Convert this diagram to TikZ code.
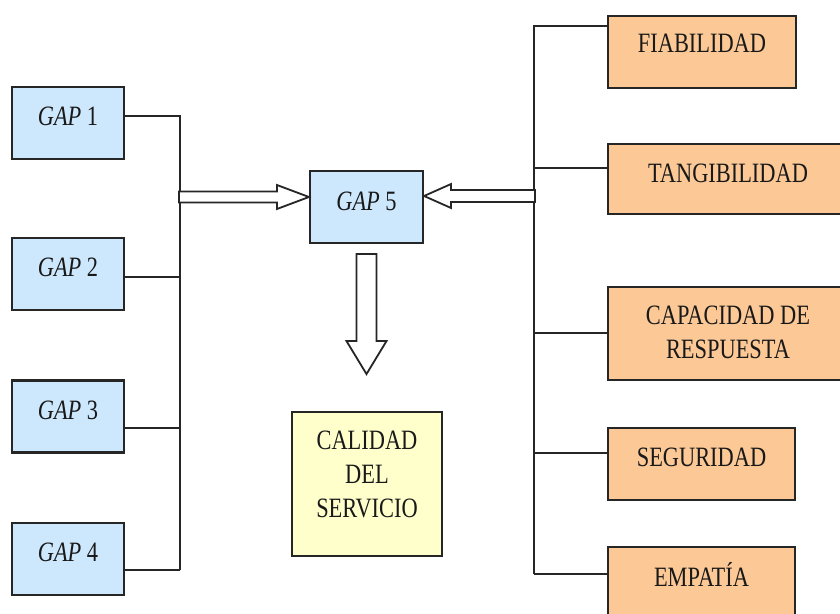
\documentclass[tikz,border=0pt]{standalone}
\usepackage{fontspec}
\newfontfamily\dfont[FakeStretch=0.8]{Liberation Serif}
\definecolor{gapblue}{HTML}{CDE8FD}
\definecolor{dimorange}{HTML}{FBC896}
\definecolor{calyellow}{HTML}{FFFFCC}
\definecolor{edgegray}{HTML}{262626}
\newcommand{\boxtxt}[2]{\raisebox{#1pt}[0pt][0pt]{#2}}
\newcommand{\twolines}[1]{\begin{tabular}{@{}c@{}}#1\end{tabular}}
\tikzset{
  basebox/.style={draw=edgegray, line width=2.1pt, inner sep=0pt, text=black!90, font=\dfont\fontsize{28}{34}\selectfont},
  gapbox/.style={basebox, fill=gapblue, minimum width=112pt, minimum height=72pt},
  dimbox/.style={basebox, fill=dimorange},
  calbox/.style={basebox, fill=calyellow, minimum width=150pt, minimum height=144pt},
  conn/.style={draw=edgegray, line width=2pt},
  hollowarrow/.style={draw=edgegray, fill=white, line width=1.8pt, line join=miter}
}
\begin{document}
\begin{tikzpicture}[x=1pt, y=-1pt]
\useasboundingbox (0,0) rectangle (840,613);
\clip (0,0) rectangle (840,613);
\fill[white] (0,0) rectangle (840,613);

% left GAP boxes
\node[gapbox] (g1) at (68,123) {\boxtxt{-2.5}{\textit{GAP} 1}};
\node[gapbox] (g2) at (68,274) {\boxtxt{-2.5}{\textit{GAP} 2}};
\node[gapbox] (g3) at (68,416.5) {\boxtxt{-2.5}{\textit{GAP} 3}};
\node[gapbox] (g4) at (68,559) {\boxtxt{-2.5}{\textit{GAP} 4}};

% central
\node[gapbox, minimum width=113pt] (g5) at (366.5,207) {\boxtxt{-3.5}{\textit{GAP} 5}};
\node[calbox] (cal) at (367,484) {\boxtxt{1.5}{\twolines{CALIDAD\\DEL\\SERVICIO}}};

% right dimension boxes
\node[dimbox, minimum width=188pt, minimum height=72pt] (fia) at (702,52) {\boxtxt{-0.5}{FIABILIDAD}};
\node[dimbox, minimum width=240pt, minimum height=70pt] (tan) at (728,179) {\boxtxt{-3.5}{TANGIBILIDAD}};
\node[dimbox, minimum width=240pt, minimum height=93pt] (cap) at (728,333.5) {\boxtxt{-7.5}{\twolines{CAPACIDAD DE\\RESPUESTA}}};
\node[dimbox, minimum width=187pt, minimum height=72pt] (seg) at (701.5,464) {\boxtxt{-2.5}{SEGURIDAD}};
\node[dimbox, minimum width=187pt, minimum height=72pt] (emp) at (701.5,583) {\boxtxt{-3.5}{EMPATÍA}};

% left bus
\coordinate (lbot) at (180,570);
\draw[conn] ([yshift=7pt]g1.east) -| (lbot);
\draw[conn] ([yshift=-3pt]g2.east) -- ([yshift=-3pt]g2.east -| lbot);
\draw[conn] ([yshift=-11.5pt]g3.east) -- ([yshift=-11.5pt]g3.east -| lbot);
\draw[conn] ([yshift=-11pt]g4.east) -- (lbot);

% right bus
\coordinate (rbot) at (534,574);
\draw[conn] ([yshift=26pt]fia.west) -| (rbot);
\draw[conn] ([yshift=11pt]tan.west) -- ([yshift=11pt]tan.west -| rbot);
\draw[conn] ([yshift=0.5pt]cap.west) -- ([yshift=0.5pt]cap.west -| rbot);
\draw[conn] ([yshift=11pt]seg.west) -- ([yshift=11pt]seg.west -| rbot);
\draw[conn] ([yshift=9pt]emp.west) -- (rbot);

% hollow arrows
\draw[hollowarrow] ([yshift=10pt]g5.west) -- ++(-32,-12) -- ++(0,6.5) -- ++(-98,0) -- ++(0,11) -- ++(98,0) -- ++(0,6.5) -- cycle;
\draw[hollowarrow] ([yshift=11pt]g5.east) -- ++(27,-12) -- ++(0,6) -- ++(84,0) -- ++(0,12) -- ++(-84,0) -- ++(0,6) -- cycle;
\draw[hollowarrow] ([yshift=-10pt]g5.south) ++(-10,0) -- ++(0,87) -- ++(-10,0) -- ++(20,33) -- ++(20,-33) -- ++(-10,0) -- ++(0,-87) -- cycle;
\end{tikzpicture}
\end{document}
